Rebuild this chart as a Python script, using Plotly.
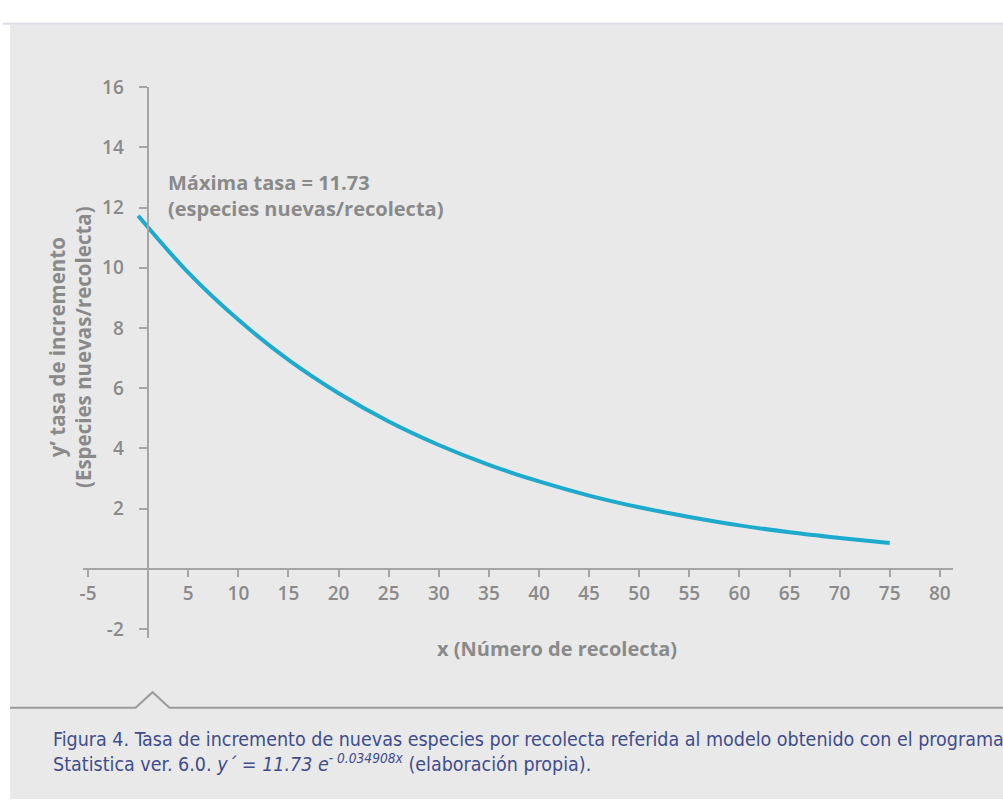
import plotly.graph_objects as go

# Collection number and rate of new species per collection
recolecta = [0, 5, 10, 15, 20, 25, 30, 35, 40, 45, 50, 55, 60, 65, 70, 75]
tasa = [11.73, 9.84, 8.27, 6.94, 5.83, 4.89, 4.11, 3.45, 2.90, 2.43,
        2.04, 1.72, 1.44, 1.21, 1.02, 0.85]

x_ticks = [-5, 5, 10, 15, 20, 25, 30, 35, 40, 45, 50, 55, 60, 65, 70, 75, 80]
y_ticks = [-2, 2, 4, 6, 8, 10, 12, 14, 16]

W, H = 1003, 802
GRAY_TXT = "#8a8a8a"
AXIS_COL = "#a5a5a5"
PANEL = "#e9e9e9"
CURVE = "#1eaacd"
CAPTION = "#3f4d8c"


def px(v):
    return v / W


def py(v):
    return 1 - v / H


x_range = [-5.5, 81.3]
y_range = [-2.3, 16]
# pixel rows/columns of the plot area
x_left, x_right = 80.3, 952.7
y_top, y_bottom = 75.8, 637.6
y_zero_px = y_top + (y_bottom - y_top) * (y_range[1] - 0) / (y_range[1] - y_range[0])

fig = go.Figure()
fig.add_trace(go.Scatter(
    x=recolecta, y=tasa, mode="lines",
    line=dict(color=CURVE, width=4, shape="spline"),
    hoverinfo="skip", showlegend=False,
))

tick_font = dict(family="Open Sans, sans-serif", size=19, color=GRAY_TXT, weight=600)
title_font = dict(family="Open Sans, sans-serif", size=20, color=GRAY_TXT, weight="bold")

fig.update_layout(
    width=W, height=H,
    margin=dict(l=0, r=0, t=0, b=0),
    paper_bgcolor="white",
    plot_bgcolor="rgba(0,0,0,0)",
    showlegend=False,
    xaxis=dict(
        domain=[px(x_left), px(x_right)], range=x_range,
        anchor="free", position=py(y_zero_px),
        showline=True, linecolor=AXIS_COL, linewidth=2,
        ticks="outside", ticklen=7, tickwidth=2, tickcolor=AXIS_COL,
        tickvals=x_ticks, ticktext=[str(v) for v in x_ticks],
        tickfont=tick_font, ticklabelstandoff=1,
        showgrid=False, zeroline=False,
    ),
    yaxis=dict(
        domain=[py(y_bottom), py(y_top)], range=y_range,
        anchor="free", position=px(145),
        showline=True, linecolor=AXIS_COL, linewidth=2,
        ticks="outside", ticklen=8, tickwidth=2, tickcolor=AXIS_COL,
        tickvals=y_ticks, ticktext=[str(v) for v in y_ticks],
        tickfont=tick_font, ticklabelstandoff=11,
        showgrid=False, zeroline=False,
    ),
)

shapes = [
    # light grey panel behind the whole figure
    dict(type="rect", xref="paper", yref="paper", x0=px(7), x1=1, y0=0, y1=py(12),
         fillcolor=PANEL, line=dict(width=0), layer="below"),
    dict(type="line", xref="paper", yref="paper", x0=0, x1=1, y0=py(11), y1=py(11),
         line=dict(color="#d9dce6", width=2), layer="below"),
    # separator with a small notch above the caption
    dict(type="path", xref="paper", yref="paper",
         path=f"M {px(7)},{py(709)} L {px(133)},{py(709)} L {px(150)},{py(693)} "
              f"L {px(167)},{py(709)} L 1,{py(709)}",
         line=dict(color="#9b9b9b", width=2), layer="below"),
]
fig.update_layout(shapes=shapes)

fig.add_annotation(
    xref="paper", yref="paper", x=px(163), y=py(157), xanchor="left", yanchor="top",
    text="Máxima tasa = 11.73<br>(especies nuevas/recolecta)",
    showarrow=False, align="left", font=title_font,
)
fig.add_annotation(
    xref="paper", yref="paper", x=px(556), y=py(648), xanchor="center", yanchor="middle",
    text="x (Número de recolecta)", showarrow=False, font=title_font,
)
fig.add_annotation(
    xref="paper", yref="paper", x=px(67), y=py(341), xanchor="center", yanchor="middle",
    text="y’ tasa de incremento<br>(Especies nuevas/recolecta)",
    textangle=-90, showarrow=False,
    font=dict(family="Open Sans, sans-serif", size=20.5, color=GRAY_TXT, weight="bold"),
)
fig.add_annotation(
    xref="paper", yref="paper", x=px(48), y=py(754), xanchor="left", yanchor="middle",
    text=("Figura 4. Tasa de incremento de nuevas especies por recolecta referida al modelo "
          "obtenido con el programa<br>"
          "Statistica ver. 6.0. <i>y´ = 11.73 e</i><sup><i>- 0.034908x</i></sup> "
          "(elaboración propia)."),
    showarrow=False, align="left",
    font=dict(family="Liberation Sans Narrow, DejaVu Sans Condensed, sans-serif",
              size=19.5, color=CAPTION),
)

fig.write_html("out.html")
